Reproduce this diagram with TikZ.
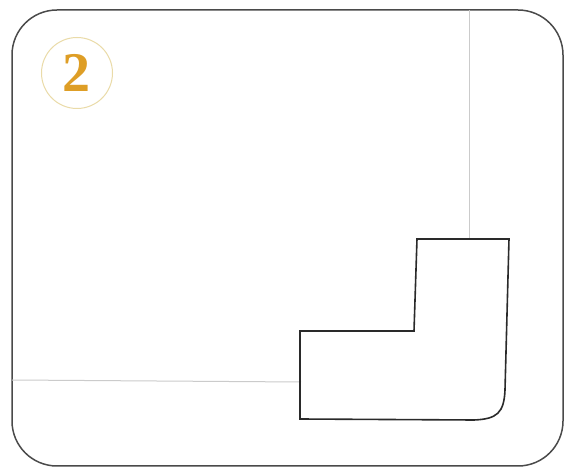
\documentclass[tikz,border=0pt]{standalone}
\usepackage{fontspec}
\setmainfont{Liberation Serif}
\definecolor{frame}{HTML}{4A4A4A}
\definecolor{guide}{HTML}{CBCBCB}
\definecolor{gold}{HTML}{DE9E26}
\definecolor{ring}{HTML}{EADBA8}
\definecolor{shape}{HTML}{2A2A2A}
\begin{document}
\begin{tikzpicture}[x=1pt,y=-1pt,
  frameline/.style={draw=frame,line width=1.5pt},
  guideline/.style={draw=guide,line width=1pt},
  outline/.style={draw=shape,line width=1.6pt,line join=miter},
  badge/.style={circle,draw=ring,line width=1pt,minimum size=71pt,inner sep=0pt,text=gold,font=\fontsize{56}{56}\selectfont\bfseries}]
\useasboundingbox (0,0) rectangle (566,473);
\fill[white] (0,0) rectangle (566,473);
\draw[frameline,rounded corners=45pt] (12,10) rectangle (563,466);
\coordinate (vtop) at (469,10);
\coordinate (vbot) at (469,239);
\coordinate (hleft) at (12,380);
\coordinate (hright) at (301,382);
\draw[guideline] (vtop) -- (vbot);
\draw[guideline] (hleft) -- (hright);
\draw[outline] (417,239) -- (509,239) -- (505,390)
  .. controls (504,413) and (497,419) .. (474,420)
  -- (300,419) -- (300,331) -- (414,331) -- cycle;
\node[badge] (num) at (77,73) {2};
\end{tikzpicture}
\end{document}
